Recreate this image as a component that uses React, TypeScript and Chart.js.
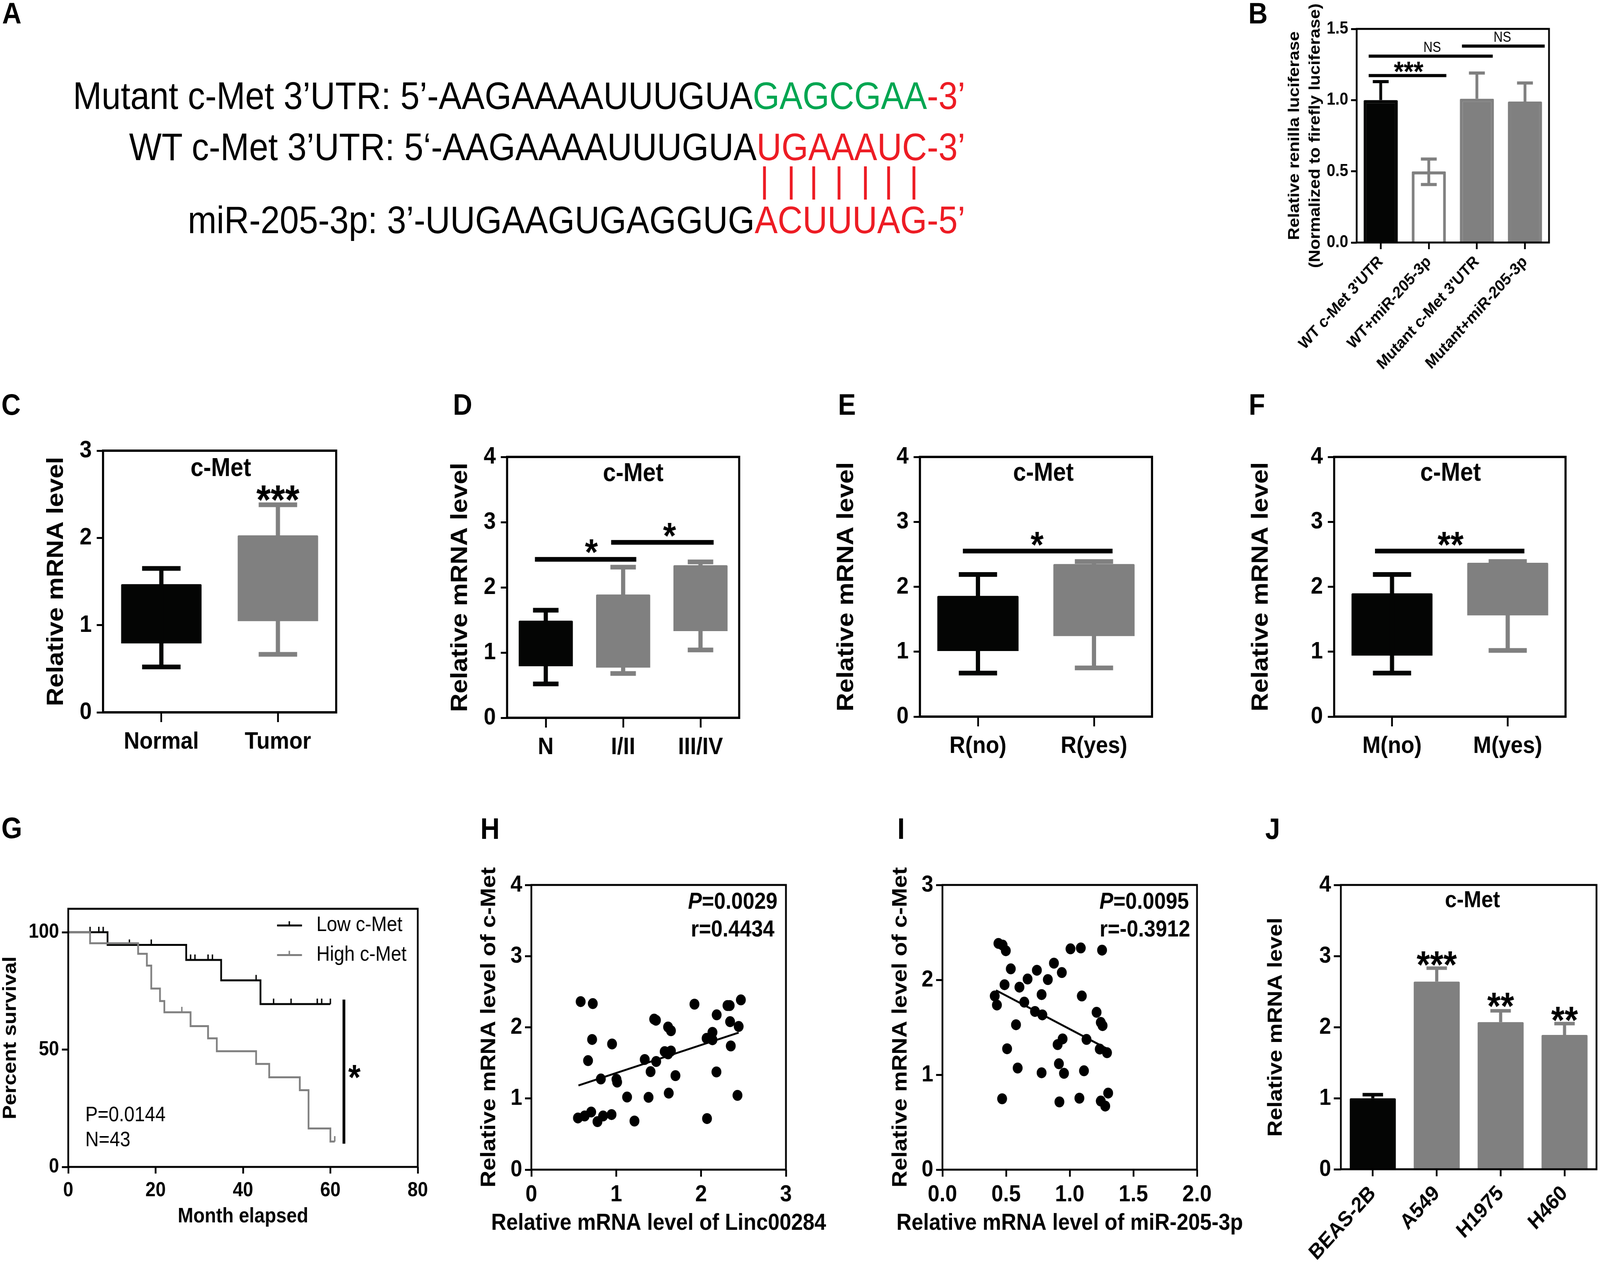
import { useEffect, useRef } from "react";
import { Chart, registerables } from "chart.js";

Chart.register(...registerables);
Chart.defaults.font.family = "'Liberation Sans', Arial, sans-serif";

const BLACK = "#040504";
const GRAY = "#808080";

// B
const bLabels = ["WT c-Met 3'UTR", "WT+miR-205-3p", "Mutant c-Met 3'UTR", "Mutant+miR-205-3p"];
const bValues = [1.0, 0.5, 1.01, 0.99];
const bErrHigh = [1.13, 0.586, 1.19, 1.12];
const bErrLow = [null, 0.407, null, null];

// C
const cLabels = ["Normal", "Tumor"];
const cBoxLow = [0.79, 1.045];
const cBoxHigh = [1.47, 2.03];
const cWhiskLow = [0.52, 0.665];
const cWhiskHigh = [1.65, 2.38];

// D
const dLabels = ["N", "I/II", "III/IV"];
const dBoxLow = [0.79, 0.77, 1.33];
const dBoxHigh = [1.49, 1.89, 2.34];
const dWhiskLow = [0.52, 0.68, 1.04];
const dWhiskHigh = [1.65, 2.31, 2.39];

// E
const eLabels = ["R(no)", "R(yes)"];
const eBoxLow = [1.01, 1.24];
const eBoxHigh = [1.86, 2.35];
const eWhiskLow = [0.67, 0.75];
const eWhiskHigh = [2.19, 2.39];

// F
const fLabels = ["M(no)", "M(yes)"];
const fBoxLow = [0.94, 1.56];
const fBoxHigh = [1.9, 2.37];
const fWhiskLow = [0.67, 1.02];
const fWhiskHigh = [2.19, 2.39];

// G
const lowMonths = [0, 9, 27, 35, 44, 60];
const lowSurvival = [100, 94.6, 88.2, 79.5, 69.4, 69.4];
const lowCensorMonths = [5, 7, 8, 14, 19, 28, 29, 32, 33, 43, 47, 51, 57, 58, 60];
const lowCensorSurvival = [100, 100, 100, 94.6, 94.6, 88.2, 88.2, 88.2, 88.2, 79.5, 69.4, 69.4, 69.4, 69.4, 69.4];
const highMonths = [0, 5, 16, 18, 19, 21, 22, 28, 32, 34, 43, 46, 53, 55, 60, 61];
const highSurvival = [100, 95.3, 90.8, 85.8, 76, 70.7, 65.9, 60, 54.8, 49.3, 43.9, 38.2, 32.7, 16.4, 10.8, 10.8];
const highCensorMonths = [26, 61];
const highCensorSurvival = [65.9, 10.8];

// H
const hX = [0.581, 0.724, 0.716, 0.951, 0.668, 0.819, 1.003, 1.011, 1.128, 1.381, 1.619, 1.405, 1.336, 1.471, 1.447, 1.468, 1.611, 1.645, 1.698, 1.571, 1.645, 1.611, 1.922, 2.065, 2.134, 2.134, 2.181, 2.184, 2.311, 2.337, 2.342, 2.35, 2.443, 2.469, 2.429, 2.07, 1.215, 0.945, 0.845, 0.779, 0.705, 0.628, 0.549];
const hY = [2.361, 2.333, 1.829, 1.766, 1.532, 1.274, 1.27, 1.23, 1.02, 1.016, 1.075, 1.377, 1.548, 1.52, 2.115, 2.099, 2.004, 1.952, 1.321, 1.659, 1.667, 1.627, 2.325, 1.845, 1.929, 1.825, 1.373, 2.175, 2.306, 2.306, 2.079, 1.738, 2.012, 2.385, 1.044, 0.718, 0.683, 0.774, 0.754, 0.675, 0.81, 0.754, 0.726];
const hFitX = [0.555, 2.443];
const hFitY = [1.183, 1.925];

// I
const iX = [0.44, 0.473, 0.498, 0.537, 0.488, 0.605, 0.669, 0.742, 0.828, 0.876, 0.938, 1.006, 1.087, 1.254, 0.779, 1.095, 0.411, 0.428, 0.643, 0.727, 0.785, 1.211, 1.244, 1.258, 0.578, 1.132, 0.944, 0.905, 1.236, 1.293, 0.508, 0.591, 0.915, 0.955, 0.779, 1.112, 0.469, 0.919, 1.076, 1.244, 1.302, 1.279];
const iY = [2.384, 2.366, 2.307, 2.116, 1.949, 1.923, 2.009, 2.101, 2.003, 2.176, 2.077, 2.327, 2.336, 2.313, 1.845, 1.83, 1.83, 1.735, 1.765, 1.667, 1.631, 1.658, 1.551, 1.518, 1.527, 1.372, 1.378, 1.318, 1.271, 1.232, 1.274, 1.071, 1.116, 1.015, 1.021, 1.042, 0.747, 0.714, 0.753, 0.723, 0.807, 0.67];
const iFitX = [0.421, 1.302];
const iFitY = [1.89, 1.268];

// J
const jLabels = ["BEAS-2B", "A549", "H1975", "H460"];
const jValues = [0.998, 2.64, 2.07, 1.89];
const jErrHigh = [1.05, 2.83, 2.23, 2.05];

type Geo = { left: number; top: number; right: number; bottom: number; pl: number; pt: number; pr: number; pb: number };
type Run = { text: string; style?: string };
type Note = { x: number; y: number; runs?: Run[]; text?: string; size: number; weight?: string; align?: CanvasTextAlign; star?: boolean };
type Rule = { x1: number; x2: number; y1: number; y2: number; width: number; color?: string };
type Marks = {
  frame: number;
  yTitle: string[];
  yTitleSize: number;
  yTitleGap?: number;
  yTitleWeight?: string;
  xTitle?: string;
  xTitleSize?: number;
  whisk?: { low: (number | null)[]; high: number[]; base: number[]; colors: string[]; cap: number; width: number };
  rules?: Rule[];
  notes?: Note[];
};

function marksPlugin(m: Marks) {
  return {
    id: "marks",
    afterDatasetsDraw(chart: any) {
      const { ctx, chartArea: a, scales } = chart;
      const xs = scales.x;
      const ys = scales.y;
      ctx.save();

      if (m.whisk) {
        const step = xs.getPixelForValue(1) - xs.getPixelForValue(0);
        const half = (step * m.whisk.cap) / 2;
        m.whisk.high.forEach((hi, i) => {
          const lo = m.whisk!.low[i];
          const x = xs.getPixelForValue(i);
          const yHi = ys.getPixelForValue(hi);
          const yLo = ys.getPixelForValue(lo ?? m.whisk!.base[i]);
          ctx.strokeStyle = m.whisk!.colors[i];
          ctx.lineWidth = m.whisk!.width;
          ctx.beginPath();
          ctx.moveTo(x, yHi);
          ctx.lineTo(x, yLo);
          ctx.moveTo(x - half, yHi);
          ctx.lineTo(x + half, yHi);
          if (lo !== null) {
            ctx.moveTo(x - half, yLo);
            ctx.lineTo(x + half, yLo);
          }
          ctx.stroke();
        });
      }

      (m.rules || []).forEach((r) => {
        ctx.strokeStyle = r.color || "#000";
        ctx.lineWidth = r.width;
        ctx.beginPath();
        ctx.moveTo(xs.getPixelForValue(r.x1), ys.getPixelForValue(r.y1));
        ctx.lineTo(xs.getPixelForValue(r.x2), ys.getPixelForValue(r.y2));
        ctx.stroke();
      });

      ctx.strokeStyle = "#000";
      ctx.lineWidth = m.frame;
      ctx.strokeRect(a.left, a.top, a.right - a.left, a.bottom - a.top);

      ctx.fillStyle = "#000";
      const family = Chart.defaults.font.family;
      (m.notes || []).forEach((n) => {
        const weight = n.weight || "bold";
        const runs = n.runs || [{ text: n.text || "" }];
        const fontOf = (r: Run) => `${r.style || ""} ${weight} ${n.size}px ${family}`;
        let total = 0;
        runs.forEach((r) => {
          ctx.font = fontOf(r);
          total += ctx.measureText(r.text).width;
        });
        const px = xs.getPixelForValue(n.x);
        let py = ys.getPixelForValue(n.y);
        if (n.star) py += n.size * 0.48;
        let x = n.align === "left" ? px : n.align === "right" ? px - total : px - total / 2;
        ctx.textAlign = "left";
        ctx.textBaseline = n.star ? "alphabetic" : "middle";
        runs.forEach((r) => {
          ctx.font = fontOf(r);
          ctx.fillText(r.text, x, py);
          x += ctx.measureText(r.text).width;
        });
      });

      // axis titles are drawn here because the scale title squeezes text wider than the plot
      ctx.textAlign = "center";
      ctx.textBaseline = "middle";
      const gap = m.yTitleGap || m.yTitleSize * 1.2;
      ctx.font = `${m.yTitleWeight || "bold"} ${m.yTitleSize}px ${family}`;
      m.yTitle.forEach((line, i) => {
        ctx.save();
        ctx.translate(gap / 2 + i * gap, (a.top + a.bottom) / 2);
        ctx.rotate(-Math.PI / 2);
        ctx.fillText(line, 0, 0);
        ctx.restore();
      });
      if (m.xTitle && m.xTitleSize) {
        ctx.font = `bold ${m.xTitleSize}px ${family}`;
        ctx.fillText(m.xTitle, (a.left + a.right) / 2, chart.height - m.xTitleSize * 0.6);
      }
      ctx.restore();
    },
  };
}

function fixX(g: Geo) {
  return (s: any) => {
    s.height = g.bottom - g.pb;
    s.paddingLeft = s.paddingRight = s.paddingTop = s.paddingBottom = 0;
  };
}

function fixY(g: Geo) {
  return (s: any) => {
    s.width = g.pl - g.left;
    s.paddingLeft = s.paddingRight = s.paddingTop = s.paddingBottom = 0;
  };
}

function baseOptions(g: Geo) {
  return {
    responsive: false,
    animation: false,
    devicePixelRatio: 1,
    layout: { padding: { left: 0, bottom: 0, top: g.pt - g.top, right: g.right - g.pr } },
    plugins: { legend: { display: false }, tooltip: { enabled: false } },
  };
}

function axis(size: number, tick: number, pad: number, tickWidth = 5) {
  return {
    border: { display: false },
    grid: { drawOnChartArea: false, drawTicks: true, offset: false, tickLength: tick, tickWidth, tickColor: "#000" },
    ticks: { color: "#000", font: { size, weight: "bold" }, padding: pad, autoSkip: false, includeBounds: false },
  };
}

type BarSpec = {
  labels: string[];
  data: any[];
  fills: string[];
  borders?: string[];
  borderWidth?: number;
  yMax: number;
  yStep: number;
  yFixed?: number;
  tickSize: number;
  xTickSize?: number;
  barPct: number;
  rotate?: number;
  xTick?: number[];
  yTick?: number[];
  marks: Marks;
};

function barConfig(g: Geo, b: BarSpec) {
  const [xLen, xPad] = b.xTick || [25, 14];
  const [yLen, yPad] = b.yTick || [18, 14];
  const xAxis: any = axis(b.xTickSize || b.tickSize, xLen, xPad);
  if (b.rotate) {
    xAxis.ticks.minRotation = b.rotate;
    xAxis.ticks.maxRotation = b.rotate;
  }
  const yAxis: any = axis(b.tickSize, yLen, yPad);
  yAxis.ticks.stepSize = b.yStep;
  if (b.yFixed) yAxis.ticks.callback = (v: number) => v.toFixed(b.yFixed);
  return {
    type: "bar",
    data: {
      labels: b.labels,
      datasets: [
        {
          data: b.data,
          backgroundColor: b.fills,
          borderColor: b.borders || b.fills,
          borderWidth: b.borderWidth || 0,
          borderSkipped: "bottom",
          borderRadius: 3,
          categoryPercentage: 1,
          barPercentage: b.barPct,
        },
      ],
    },
    options: {
      ...baseOptions(g),
      scales: {
        x: { ...xAxis, afterFit: fixX(g) },
        y: { ...yAxis, min: 0, max: b.yMax, afterFit: fixY(g) },
      },
    },
    plugins: [marksPlugin(b.marks)],
  };
}

function pairs(xs: number[], ys: number[]) {
  return xs.map((x, i) => ({ x, y: ys[i] }));
}

function boxMarks(low: number[], high: number[], base: number[], colors: string[], yTitle: string, rules: Rule[], notes: Note[]): Marks {
  return {
    frame: 6,
    yTitle: [yTitle],
    yTitleSize: 66,
    whisk: { low, high, base, colors, cap: 0.33, width: 12 },
    rules,
    notes,
  };
}

const MRNA = "Relative mRNA level";

const geoB: Geo = { left: 3652, top: 10, right: 4450, bottom: 960, pl: 3858, pt: 74, pr: 4405, pb: 621 };
const geoC: Geo = { left: 121, top: 1100, right: 1000, bottom: 1960, pl: 293, pt: 1154, pr: 956, pb: 1824 };
const geoD: Geo = { left: 1270, top: 1110, right: 2150, bottom: 1980, pl: 1442, pt: 1170, pr: 2102, pb: 1838 };
const geoE: Geo = { left: 2368, top: 1110, right: 3320, bottom: 1980, pl: 2616, pt: 1170, pr: 3276, pb: 1835 };
const geoF: Geo = { left: 3547, top: 1110, right: 4500, bottom: 1980, pl: 3794, pt: 1170, pr: 4452, pb: 1835 };
const geoG: Geo = { left: -2, top: 2280, right: 1240, bottom: 3147, pl: 194, pt: 2327, pr: 1188, pb: 2988 };
const geoH: Geo = { left: 1356, top: 2220, right: 2400, bottom: 3168, pl: 1511, pt: 2266, pr: 2235, pb: 2995 };
const geoI: Geo = { left: 2526, top: 2220, right: 3560, bottom: 3168, pl: 2680, pt: 2266, pr: 3404, pb: 2995 };
const geoJ: Geo = { left: 3594, top: 2220, right: 4550, bottom: 3234, pl: 3813, pt: 2266, pr: 4540, pb: 2994 };

function panelB(g: Geo) {
  return barConfig(g, {
    labels: bLabels,
    data: bValues,
    fills: [BLACK, "#ffffff", GRAY, GRAY],
    borders: [BLACK, GRAY, GRAY, GRAY],
    borderWidth: 8,
    yMax: 1.5,
    yStep: 0.5,
    yFixed: 1,
    tickSize: 44,
    xTickSize: 42,
    barPct: 0.71,
    rotate: 45,
    xTick: [17, 8],
    yTick: [16, 8],
    marks: {
      frame: 5,
      yTitle: ["Relative renilla luciferase", "(Normalized to firefly luciferase)"],
      yTitleSize: 44.5,
      yTitleGap: 59,
      whisk: { low: bErrLow, high: bErrHigh, base: bValues, colors: [BLACK, GRAY, GRAY, GRAY], cap: 0.33, width: 8 },
      rules: [
        { x1: -0.25, x2: 1.365, y1: 1.172, y2: 1.172, width: 8 },
        { x1: -0.25, x2: 2.33, y1: 1.309, y2: 1.309, width: 8 },
        { x1: 1.69, x2: 3.41, y1: 1.379, y2: 1.379, width: 8 },
      ],
      notes: [
        { x: 0.58, y: 1.226, text: "***", size: 72, star: true },
        { x: 1.07, y: 1.365, text: "NS", size: 36, weight: "normal" },
        { x: 2.53, y: 1.437, text: "NS", size: 36, weight: "normal" },
      ],
    },
  });
}

function panelC(g: Geo) {
  return barConfig(g, {
    labels: cLabels,
    data: cBoxLow.map((v, i) => [v, cBoxHigh[i]]),
    fills: [BLACK, GRAY],
    yMax: 3,
    yStep: 1,
    tickSize: 62,
    barPct: 0.69,
    marks: boxMarks(cWhiskLow, cWhiskHigh, cBoxHigh, [BLACK, GRAY], MRNA, [], [
      { x: 0.51, y: 2.79, text: "c-Met", size: 66 },
      { x: 1, y: 2.5, text: "***", size: 105, star: true },
    ]),
  });
}

function panelD(g: Geo) {
  return barConfig(g, {
    labels: dLabels,
    data: dBoxLow.map((v, i) => [v, dBoxHigh[i]]),
    fills: [BLACK, GRAY, GRAY],
    yMax: 4,
    yStep: 1,
    tickSize: 62,
    barPct: 0.7,
    marks: boxMarks(dWhiskLow, dWhiskHigh, dBoxHigh, [BLACK, GRAY, GRAY], MRNA, [
      { x1: -0.14, x2: 1.17, y1: 2.43, y2: 2.43, width: 12 },
      { x1: 0.845, x2: 2.17, y1: 2.69, y2: 2.69, width: 12 },
    ], [
      { x: 1.13, y: 3.74, text: "c-Met", size: 66 },
      { x: 0.59, y: 2.62, text: "*", size: 95, star: true },
      { x: 1.6, y: 2.87, text: "*", size: 95, star: true },
    ]),
  });
}

function panelE(g: Geo) {
  return barConfig(g, {
    labels: eLabels,
    data: eBoxLow.map((v, i) => [v, eBoxHigh[i]]),
    fills: [BLACK, GRAY],
    yMax: 4,
    yStep: 1,
    tickSize: 62,
    barPct: 0.7,
    marks: boxMarks(eWhiskLow, eWhiskHigh, eBoxHigh, [BLACK, GRAY], MRNA, [
      { x1: -0.13, x2: 1.16, y1: 2.55, y2: 2.55, width: 12 },
    ], [
      { x: 0.564, y: 3.74, text: "c-Met", size: 66 },
      { x: 0.51, y: 2.73, text: "*", size: 95, star: true },
    ]),
  });
}

function panelF(g: Geo) {
  return barConfig(g, {
    labels: fLabels,
    data: fBoxLow.map((v, i) => [v, fBoxHigh[i]]),
    fills: [BLACK, GRAY],
    yMax: 4,
    yStep: 1,
    tickSize: 62,
    barPct: 0.7,
    marks: boxMarks(fWhiskLow, fWhiskHigh, fBoxHigh, [BLACK, GRAY], MRNA, [
      { x1: -0.147, x2: 1.144, y1: 2.55, y2: 2.55, width: 12 },
    ], [
      { x: 0.506, y: 3.74, text: "c-Met", size: 66 },
      { x: 0.506, y: 2.73, text: "**", size: 95, star: true },
    ]),
  });
}

function censorMark(color: string) {
  const c = document.createElement("canvas");
  c.width = 6;
  c.height = 30;
  const ctx = c.getContext("2d")!;
  ctx.fillStyle = color;
  ctx.fillRect(1, 1, 4, 14);
  return c;
}

function panelG(g: Geo) {
  const curve = (xs: number[], ys: number[], color: string) => ({
    type: "line",
    data: pairs(xs, ys),
    borderColor: color,
    borderWidth: 5,
    stepped: "before",
    pointRadius: 0,
  });
  const censor = (xs: number[], ys: number[], color: string) => ({
    type: "scatter",
    data: pairs(xs, ys),
    pointStyle: censorMark(color),
    pointRadius: 10,
    showLine: false,
  });
  const xAxis: any = axis(52, 17, 12);
  xAxis.ticks.stepSize = 20;
  const yAxis: any = axis(52, 18, 8);
  yAxis.ticks.stepSize = 50;
  return {
    type: "line",
    data: {
      datasets: [
        curve(highMonths, highSurvival, GRAY),
        censor(highCensorMonths, highCensorSurvival, GRAY),
        curve(lowMonths, lowSurvival, BLACK),
        censor(lowCensorMonths, lowCensorSurvival, BLACK),
      ],
    },
    options: {
      ...baseOptions(g),
      scales: {
        x: { ...xAxis, type: "linear", min: 0, max: 80, afterFit: fixX(g) },
        y: { ...yAxis, min: 0, max: 110, afterFit: fixY(g) },
      },
    },
    plugins: [
      marksPlugin({
        frame: 5,
        yTitle: ["Percent survival"],
        yTitleSize: 54,
        xTitle: "Month elapsed",
        xTitleSize: 53,
        rules: [
          { x1: 63.1, x2: 63.1, y1: 9.9, y2: 71.3, width: 8 },
          { x1: 47.8, x2: 53.5, y1: 102.9, y2: 102.9, width: 5, color: BLACK },
          { x1: 50.6, x2: 50.6, y1: 102.9, y2: 104.7, width: 4, color: BLACK },
          { x1: 47.8, x2: 53.5, y1: 90.3, y2: 90.3, width: 5, color: GRAY },
          { x1: 50.6, x2: 50.6, y1: 90.3, y2: 92.1, width: 4, color: GRAY },
        ],
        notes: [
          { x: 56.8, y: 102.9, text: "Low c-Met", size: 53, weight: "normal", align: "left" },
          { x: 56.8, y: 90.3, text: "High c-Met", size: 53, weight: "normal", align: "left" },
          { x: 3.9, y: 21.9, text: "P=0.0144", size: 53, weight: "normal", align: "left" },
          { x: 3.9, y: 11.3, text: "N=43", size: 53, weight: "normal", align: "left" },
          { x: 65.5, y: 40.2, text: "*", size: 90, star: true },
        ],
      }),
    ],
  };
}

function scatterConfig(g: Geo, xs: number[], ys: number[], fitX: number[], fitY: number[], xMax: number, xStep: number, yMax: number, xFixed: number, marks: Marks) {
  const xAxis: any = axis(60, 18, 10);
  xAxis.ticks.stepSize = xStep;
  if (xFixed) xAxis.ticks.callback = (v: number) => v.toFixed(xFixed);
  const yAxis: any = axis(60, 18, 8);
  yAxis.ticks.stepSize = 1;
  return {
    type: "scatter",
    data: {
      datasets: [
        { data: pairs(fitX, fitY), showLine: true, borderColor: "#000", borderWidth: 5, pointRadius: 0 },
        { data: pairs(xs, ys), backgroundColor: "#000", borderWidth: 0, pointRadius: 14 },
      ],
    },
    options: {
      ...baseOptions(g),
      scales: {
        x: { ...xAxis, type: "linear", min: 0, max: xMax, afterFit: fixX(g) },
        y: { ...yAxis, min: 0, max: yMax, afterFit: fixY(g) },
      },
    },
    plugins: [marksPlugin(marks)],
  };
}

function panelH(g: Geo) {
  return scatterConfig(g, hX, hY, hFitX, hFitY, 3, 1, 4, 0, {
    frame: 5,
    yTitle: ["Relative mRNA level of c-Met"],
    yTitleSize: 59.5,
    xTitle: "Relative mRNA level of Linc00284",
    xTitleSize: 59.5,
    notes: [
      { x: 2.9, y: 3.754, runs: [{ text: "P", style: "italic" }, { text: "=0.0029" }], size: 59, align: "right" },
      { x: 2.865, y: 3.365, text: "r=0.4434", size: 59, align: "right" },
    ],
  });
}

function panelI(g: Geo) {
  return scatterConfig(g, iX, iY, iFitX, iFitY, 2, 0.5, 3, 1, {
    frame: 5,
    yTitle: ["Relative mRNA level of c-Met"],
    yTitleSize: 59.5,
    xTitle: "Relative mRNA level of miR-205-3p",
    xTitleSize: 59.5,
    notes: [
      { x: 1.936, y: 2.815, runs: [{ text: "P", style: "italic" }, { text: "=0.0095" }], size: 59, align: "right" },
      { x: 1.946, y: 2.524, text: "r=-0.3912", size: 59, align: "right" },
    ],
  });
}

function panelJ(g: Geo) {
  return barConfig(g, {
    labels: jLabels,
    data: jValues,
    fills: [BLACK, GRAY, GRAY, GRAY],
    yMax: 4,
    yStep: 1,
    tickSize: 60,
    xTickSize: 55,
    barPct: 0.72,
    rotate: 45,
    xTick: [18, 12],
    yTick: [20, 8],
    marks: {
      frame: 5,
      yTitle: [MRNA],
      yTitleSize: 58,
      whisk: { low: [null, null, null, null], high: jErrHigh, base: jValues, colors: [BLACK, GRAY, GRAY, GRAY], cap: 0.32, width: 9 },
      notes: [
        { x: 1.56, y: 3.78, text: "c-Met", size: 60 },
        { x: 1, y: 2.95, text: "***", size: 98, star: true },
        { x: 2, y: 2.37, text: "**", size: 98, star: true },
        { x: 3, y: 2.17, text: "**", size: 98, star: true },
      ],
    },
  });
}

function Panel({ g, build }: { g: Geo; build: (g: Geo) => any }) {
  const ref = useRef<HTMLCanvasElement | null>(null);

  useEffect(() => {
    if (!ref.current) return;
    const chart = new Chart(ref.current, build(g));
    return () => {
      chart.destroy();
    };
  }, []);

  return (
    <canvas
      ref={ref}
      width={g.right - g.left}
      height={g.bottom - g.top}
      style={{ position: "absolute", left: g.left, top: g.top, width: g.right - g.left, height: g.bottom - g.top }}
    />
  );
}

const FAMILY = "'Liberation Sans', Arial, sans-serif";
const GREEN = "#00a651";
const RED = "#ed1c24";
const pairLinesX = [2174, 2250, 2314, 2386, 2461, 2527, 2599];

const letters: [string, number, number][] = [
  ["A", 6, 62],
  ["B", 3550, 62],
  ["C", 4, 1064],
  ["D", 1288, 1064],
  ["E", 2383, 1064],
  ["F", 3551, 1064],
  ["G", 4, 2148],
  ["H", 1366, 2150],
  ["I", 2552, 2150],
  ["J", 3598, 2150],
];

function SeqLine({ baseline, parts }: { baseline: number; parts: [string, string][] }) {
  return (
    <div
      style={{
        position: "absolute",
        left: 0,
        width: 2745,
        top: baseline - 84,
        textAlign: "right",
        font: `98px/100px ${FAMILY}`,
        whiteSpace: "nowrap",
      }}
    >
      {parts.map(([t, c], i) => (
        <span key={i} style={{ color: c }}>
          {t}
        </span>
      ))}
    </div>
  );
}

export default function App() {
  // the window can come out narrower than the figure, so the whole figure is fitted to it
  const sx = window.innerWidth / 4550;
  const sy = window.innerHeight / 3234;
  return (
    <div style={{ position: "absolute", left: 0, top: 0, width: window.innerWidth, height: window.innerHeight, overflow: "hidden", background: "#fff" }}>
      <div style={{ position: "absolute", left: 0, top: 0, width: 4550, height: 3234, transform: `scale(${sx}, ${sy})`, transformOrigin: "0 0" }}>
        {letters.map(([t, x, base]) => (
          <div key={t} style={{ position: "absolute", left: x, top: base - 66, font: `bold 76px/76px ${FAMILY}`, color: "#000" }}>
            {t}
          </div>
        ))}
        <SeqLine baseline={279} parts={[["Mutant c-Met 3’UTR: 5’-AAGAAAAUUUGUA", "#000"], ["GAGCGAA", GREEN], ["-3’", RED]]} />
        <SeqLine baseline={410} parts={[["WT c-Met 3’UTR: 5‘-AAGAAAAUUUGUA", "#000"], ["UGAAAUC-3’", RED]]} />
        <SeqLine baseline={597} parts={[["miR-205-3p: 3’-UUGAAGUGAGGUG", "#000"], ["ACUUUAG-5’", RED]]} />
        {pairLinesX.map((x) => (
          <div key={x} style={{ position: "absolute", left: x - 4, top: 426, width: 8, height: 85, background: RED }} />
        ))}
        <Panel g={geoB} build={panelB} />
        <Panel g={geoC} build={panelC} />
        <Panel g={geoD} build={panelD} />
        <Panel g={geoE} build={panelE} />
        <Panel g={geoF} build={panelF} />
        <Panel g={geoG} build={panelG} />
        <Panel g={geoH} build={panelH} />
        <Panel g={geoI} build={panelI} />
        <Panel g={geoJ} build={panelJ} />
      </div>
    </div>
  );
}
